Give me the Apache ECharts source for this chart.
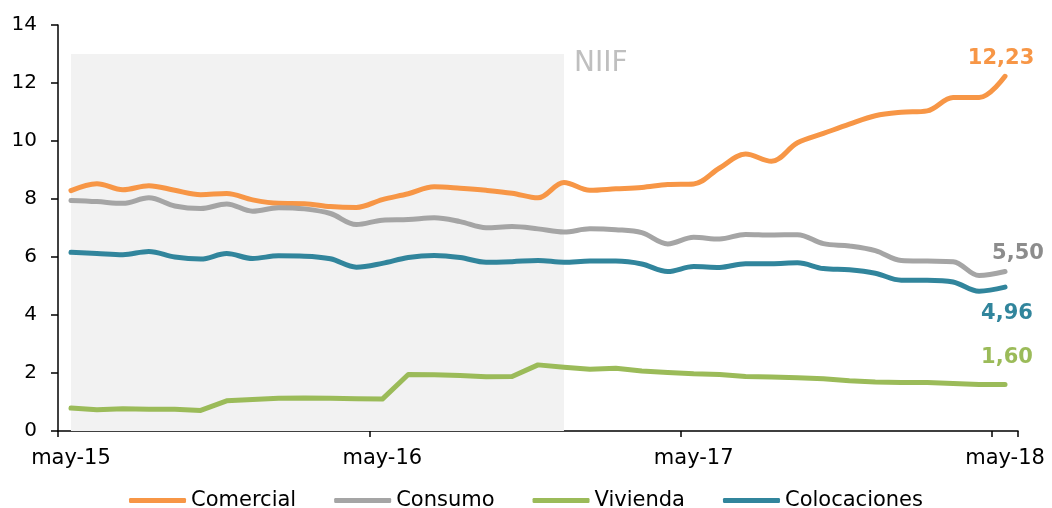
<!DOCTYPE html>
<html>
<head>
<meta charset="utf-8">
<script src="https://cdn.jsdelivr.net/npm/echarts@6/dist/echarts.min.js"></script>
<style>
  html, body { margin: 0; padding: 0; background: #fff; }
  #chart { width: 1052px; height: 508px; }
</style>
</head>
<body>
<div id="chart"></div>
<script>
const categories = [
  'may-15','jun-15','jul-15','ago-15','sep-15','oct-15','nov-15','dic-15',
  'ene-16','feb-16','mar-16','abr-16','may-16','jun-16','jul-16','ago-16',
  'sep-16','oct-16','nov-16','dic-16','ene-17','feb-17','mar-17','abr-17',
  'may-17','jun-17','jul-17','ago-17','sep-17','oct-17','nov-17','dic-17',
  'ene-18','feb-18','mar-18','abr-18','may-18'
];
const comercial = [
  8.29, 8.53, 8.32, 8.46, 8.30, 8.15, 8.19, 7.97, 7.85, 7.84, 7.74, 7.71,
  7.98, 8.18, 8.42, 8.37, 8.30, 8.20, 8.04, 8.57, 8.30, 8.35, 8.40, 8.50,
  8.52, 9.07, 9.55, 9.30, 9.94, 10.26, 10.58, 10.87, 10.99, 11.04, 11.50, 11.50,
  12.23
];
const consumo = [
  7.95, 7.91, 7.85, 8.04, 7.76, 7.67, 7.83, 7.58, 7.70, 7.66, 7.50, 7.12,
  7.27, 7.29, 7.35, 7.22, 7.01, 7.05, 6.97, 6.86, 6.97, 6.94, 6.84, 6.45,
  6.68, 6.62, 6.78, 6.76, 6.77, 6.46, 6.38, 6.22, 5.88, 5.86, 5.84, 5.36,
  5.50
];
const vivienda = [
  0.79, 0.73, 0.77, 0.75, 0.75, 0.71, 1.04, 1.09, 1.13, 1.14, 1.13, 1.11,
  1.10, 1.95, 1.94, 1.91, 1.87, 1.88, 2.28, 2.20, 2.13, 2.16, 2.07, 2.02,
  1.97, 1.95, 1.88, 1.86, 1.84, 1.80, 1.73, 1.69, 1.67, 1.67, 1.64, 1.60,
  1.60
];
const colocaciones = [
  6.16, 6.12, 6.08, 6.19, 6.00, 5.93, 6.12, 5.95, 6.04, 6.03, 5.94, 5.65,
  5.78, 5.98, 6.05, 5.98, 5.82, 5.84, 5.88, 5.82, 5.86, 5.86, 5.76, 5.50,
  5.67, 5.64, 5.77, 5.77, 5.80, 5.60, 5.56, 5.44, 5.20, 5.20, 5.14, 4.82,
  4.96
];
const seriesNames = ['Comercial', 'Consumo', 'Vivienda', 'Colocaciones'];
const niifLabel = 'NIIF';
const niifStart = 'may-15';
const niifEnd = 'dic-16';
const niifTop = 13;

const FONT = "'DejaVu Sans', Verdana, sans-serif";
const colors = {
  Comercial: '#F79646',
  Consumo: '#A5A5A5',
  Vivienda: '#9BBB59',
  Colocaciones: '#31859C'
};
const labelColors = {
  Comercial: '#F79646',
  Consumo: '#8C8C8C',
  Vivienda: '#9BBB59',
  Colocaciones: '#31859C'
};
const labelOffsets = {
  Comercial: [-4, -18],
  Consumo: [13, -18],
  Vivienda: [2, -27],
  Colocaciones: [2, 26]
};

function fmt(v) { return v.toFixed(2).replace('.', ','); }

function makeSeries(name, data, smooth, extra) {
  return Object.assign({
    name: name,
    type: 'line',
    data: data,
    smooth: smooth,
    showSymbol: false,
    symbol: 'none',
    lineStyle: { width: 5, color: colors[name], cap: 'round', join: 'round' },
    itemStyle: { color: colors[name] },
    emphasis: { disabled: true },
    z: 3,
    endLabel: {
      show: true,
      formatter: p => fmt(p.value),
      color: labelColors[name],
      fontFamily: FONT,
      fontWeight: 'bold',
      fontSize: 21,
      align: 'center',
      verticalAlign: 'middle',
      distance: 0,
      offset: labelOffsets[name]
    }
  }, extra || {});
}

const chart = echarts.init(document.getElementById('chart'), null, { renderer: 'canvas' });
chart.setOption({
  animation: false,
  backgroundColor: '#ffffff',
  color: seriesNames.map(n => colors[n]),
  grid: { left: 58, right: 34, top: 25, bottom: 77, containLabel: false },
  legend: {
    data: seriesNames,
    top: 485,
    left: 'center',
    icon: 'roundRect',
    itemWidth: 57,
    itemHeight: 5,
    itemGap: 38,
    textStyle: { fontFamily: FONT, fontSize: 21, color: '#000', padding: [0, 0, 0, 0] }
  },
  xAxis: {
    type: 'category',
    data: categories,
    boundaryGap: true,
    axisLine: { lineStyle: { color: '#000', width: 1.5 } },
    axisTick: { show: true, interval: 11, length: 6, inside: false, lineStyle: { color: '#000', width: 1.5 } },
    axisLabel: { interval: 11, margin: 17, fontFamily: FONT, fontSize: 21, color: '#000' },
    splitLine: { show: false }
  },
  yAxis: {
    type: 'value',
    min: 0,
    max: 14,
    interval: 2,
    axisLine: { show: true, lineStyle: { color: '#000', width: 1.5 } },
    axisTick: { show: true, length: 7, lineStyle: { color: '#000', width: 1.5 } },
    axisLabel: { margin: 21, fontFamily: FONT, fontSize: 20, color: '#000' },
    splitLine: { show: false }
  },
  series: [
    makeSeries('Comercial', comercial, 0.35, {
      markArea: {
        silent: true,
        z: 1,
        itemStyle: { color: '#F2F2F2' },
        label: {
          show: true,
          position: ['100%', 0],
          align: 'left',
          verticalAlign: 'middle',
          offset: [10, 10],
          color: '#BFBFBF',
          fontFamily: FONT,
          fontSize: 28
        },
        data: [[
          { name: niifLabel, xAxis: niifStart, yAxis: 0 },
          { xAxis: niifEnd, yAxis: niifTop }
        ]]
      }
    }),
    makeSeries('Consumo', consumo, 0.35),
    makeSeries('Vivienda', vivienda, false),
    makeSeries('Colocaciones', colocaciones, 0.35)
  ]
});
</script>
</body>
</html>
